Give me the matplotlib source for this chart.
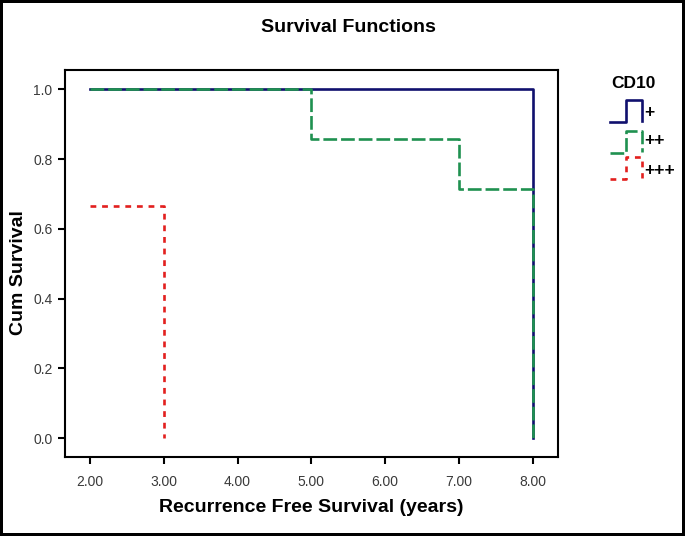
import matplotlib
matplotlib.use("Agg")
import matplotlib.pyplot as plt

# survival curves by CD10 group: time of each step, survival after the step
groups = ["+", "++", "+++"]
plus_t = [2.0, 8.0]
plus_s = [1.0, 0.0]
plus2_t = [2.0, 5.0, 7.0, 8.0]
plus2_s = [1.0, 0.857, 0.714, 0.0]
plus3_t = [2.0, 3.0]
plus3_s = [0.667, 0.0]

x_ticks = [2.0, 3.0, 4.0, 5.0, 6.0, 7.0, 8.0]
y_ticks = [0.0, 0.2, 0.4, 0.6, 0.8, 1.0]

navy = "#10106e"
green = "#1f9150"
red = "#e2201e"

plt.rcParams["font.family"] = ["Liberation Sans", "DejaVu Sans"]

fig = plt.figure(figsize=(6.85, 5.36), dpi=100, edgecolor="black", linewidth=4)
ax = fig.add_axes([0.0949, 0.1474, 0.7193, 0.7229])

ax.plot(plus_t, plus_s, drawstyle="steps-post", color=navy, lw=1.9)
ax.plot(plus2_t, plus2_s, drawstyle="steps-post", color=green, lw=1.9,
        dashes=(5.2, 1.5))
ax.plot(plus3_t, plus3_s, drawstyle="steps-post", color=red, lw=1.9,
        dashes=(2.2, 2.2))

ax.set_xlim(1.661, 8.339)
ax.set_ylim(-0.0536, 1.0567)
ax.set_xticks(x_ticks)
ax.set_xticklabels(["%.2f" % v for v in x_ticks])
ax.set_yticks(y_ticks)
ax.set_yticklabels(["%.1f" % v for v in y_ticks])
ax.tick_params(direction="out", length=5, width=1.5, labelsize=10,
               labelcolor="#3a3a3a")
ax.tick_params(axis="x", pad=8)
ax.tick_params(axis="y", pad=4)
for sp in ax.spines.values():
    sp.set_linewidth(1.5)

ax.set_xlabel("Recurrence Free Survival (years)", fontsize=14, fontweight="bold",
              labelpad=7)
ax.set_ylabel("Cum Survival", fontsize=14, fontweight="bold")
ax.yaxis.set_label_coords(-0.078, 0.477)
fig.text(0.508, 0.949, "Survival Functions", ha="center", va="center",
         fontsize=14, fontweight="bold")

# legend drawn in its own pixel-based axes
lg = fig.add_axes([600 / 685, 1 - 190 / 536, 85 / 685, 120 / 536])
lg.set_xlim(600, 685)
lg.set_ylim(190, 70)
lg.axis("off")
lg.text(633, 84, "CD10", ha="center", va="center", fontsize=12.5, fontweight="bold")
colors = [navy, green, red]
styles = [None, (5.2, 1.5), (2.2, 2.2)]
tops = [100, 131, 157]
label_y = [113, 141, 170]
for name, c, st, top, ly in zip(groups, colors, styles, tops, label_y):
    bot = top + 22
    line, = lg.plot([610, 626, 626, 642, 642], [bot, bot, top, top, bot - 1],
                    color=c, lw=1.9, clip_on=False)
    if st:
        line.set_dashes(st)
    lg.text(644, ly, name, ha="left", va="center", fontsize=12.5,
            fontweight="bold")

fig.savefig("out.png", dpi=100)
